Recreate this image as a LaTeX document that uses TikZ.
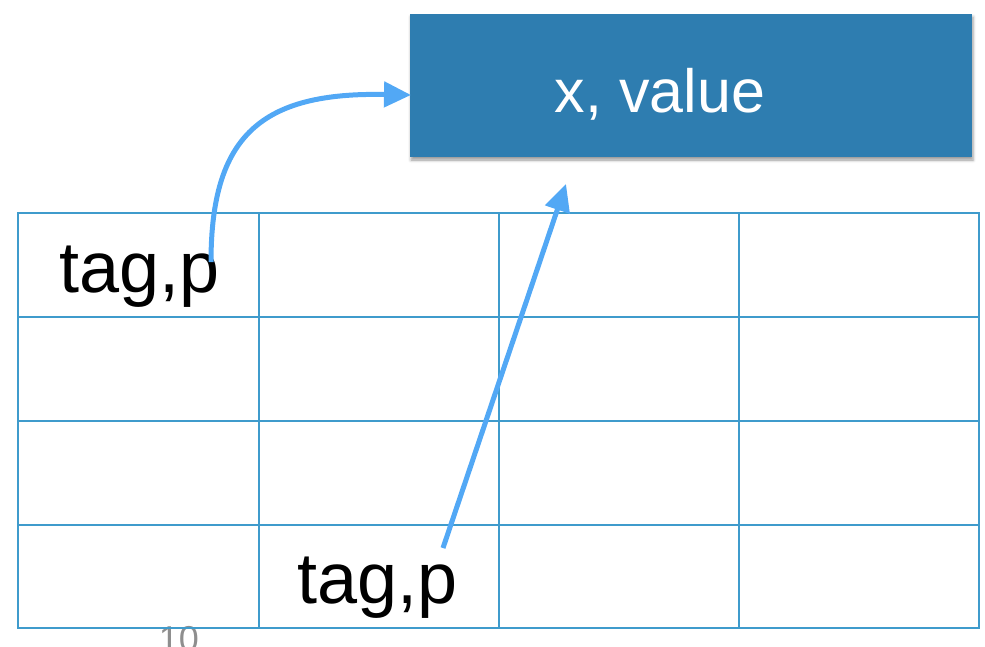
\documentclass[tikz,border=0pt]{standalone}
\usepackage{fontspec}
\setmainfont{Liberation Sans}
\usetikzlibrary{arrows.meta,shadows.blur}
\definecolor{gridblue}{HTML}{3F9BCC}
\definecolor{boxblue}{HTML}{2E7DB0}
\definecolor{arrowblue}{HTML}{52A8F5}
\definecolor{pagegray}{HTML}{8E8E8E}
\tikzset{
  cellline/.style={draw=gridblue, line width=2.5pt},
  entrybox/.style={fill=boxblue, draw=none, minimum width=562pt, minimum height=143pt,
    inner sep=0pt, blur shadow={shadow xshift=1pt, shadow yshift=-3pt, shadow blur radius=3pt, shadow opacity=40}},
  pointer/.style={draw=arrowblue, line width=5pt, -{Triangle[length=27pt,width=25pt]}},
  celltext/.style={font=\fontsize{72}{80}\selectfont, text=black, inner sep=0pt, anchor=base west},
}
\begin{document}
\begin{tikzpicture}[x=1pt,y=-1pt]
  \useasboundingbox (0,0) rectangle (985,646);
  \begin{scope}
    \clip (0,0) rectangle (985,646);
    % page number, partly covered by the table's bottom rule
    \node[font=\fontsize{36}{40}\selectfont, text=pagegray, inner sep=0pt, anchor=north] (pagenum) at (179,626) {10};
  \end{scope}

  % entry box
  \node[entrybox] (entry) at (691,85.5) {};
  \node[font=\fontsize{61}{70}\selectfont, text=white, inner sep=0pt, anchor=base] (entrytext) at (660,112) {x, value};

  % table: 4 columns, 4 rows
  \draw[cellline] (18,213) rectangle (979,628);
  \foreach \xx in {259,499,739} \draw[cellline] (\xx,213) -- (\xx,628);
  \foreach \yy in {317,421,525} \draw[cellline] (18,\yy) -- (979,\yy);

  % tags
  \node[celltext] (tagA) at (59,292) {tag,p};
  \node[celltext] (tagB) at (297,603) {tag,p};

  % pointers
  \coordinate (startA) at (211,262);
  \coordinate (endA) at (411,95);
  \coordinate (startB) at (443,548);
  \coordinate (endB) at (566,184);
  \draw[pointer] (startA) .. controls (211,135) and (262,92) .. (endA);
  \draw[pointer] (startB) -- (endB);
\end{tikzpicture}
\end{document}
